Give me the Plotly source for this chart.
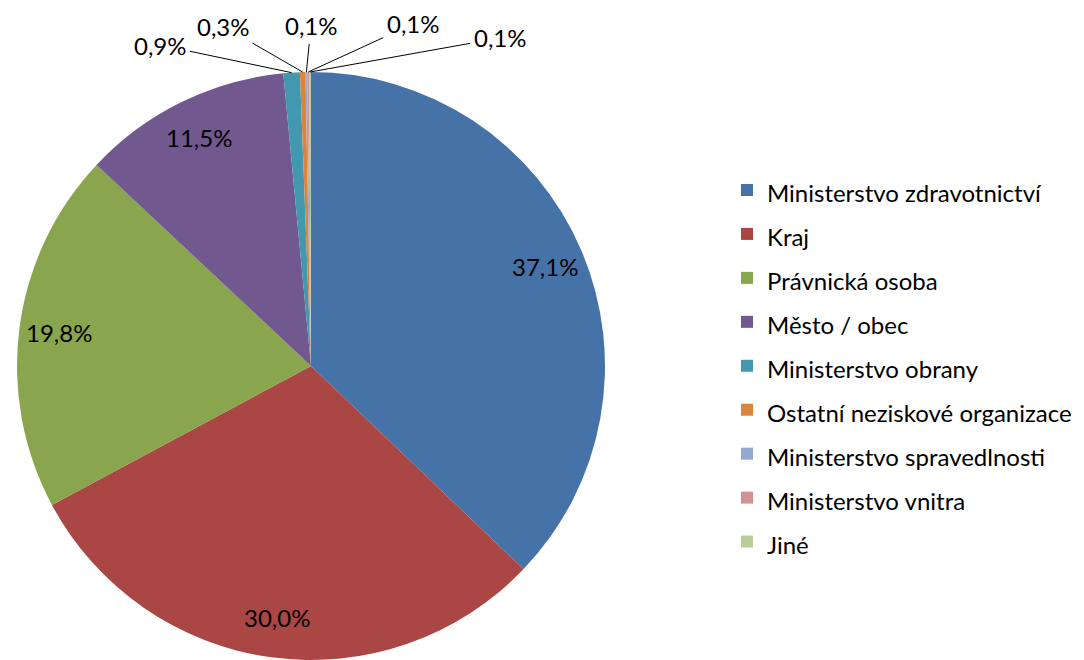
import math
import plotly.graph_objects as go

# ---- data ----
categories = ["Ministerstvo zdravotnictví", "Kraj", "Právnická osoba", "Město / obec",
              "Ministerstvo obrany", "Ostatní neziskové organizace",
              "Ministerstvo spravedlnosti", "Ministerstvo vnitra", "Jiné"]
shares = [37.1, 30.0, 19.8, 11.5, 0.9, 0.3, 0.1, 0.1, 0.1]
share_labels = ["37,1%", "30,0%", "19,8%", "11,5%", "0,9%", "0,3%", "0,1%", "0,1%", "0,1%"]
colors = ["#4572A7", "#AA4643", "#89A54E", "#71588F", "#4198AF",
          "#DB843D", "#93A9CF", "#D19392", "#B9CD96"]

# ---- layout geometry (screen px; the page body adds an 8px offset) ----
OFF = 8
W, H = 1084 - OFF, 660 - OFF
CX, CY, R = 311 - OFF, 366 - OFF, 294     # pie centre / radius in figure px
FONT = "Lato"
FS = 24
LEG_TEXT_FS = 24
LEG_FS = 31.5
# outside label text centres for the tiny slices (screen px)
small_label_pos = [(160, 45), (223, 26), (311, 26), (413, 24), (500, 38)]


def px2paper(x, y):
    return x / W, 1 - y / H


fig = go.Figure()
fig.add_trace(go.Pie(
    labels=[f"<span style='font-size:{LEG_TEXT_FS}px'>{c}</span>" for c in categories],
    values=shares,
    sort=False,
    direction="clockwise",
    rotation=0,
    marker=dict(colors=colors, line=dict(width=0)),
    textinfo="none",
    hoverinfo="label+percent",
    domain=dict(x=[(CX - R) / W, (CX + R) / W], y=[(H - CY - R) / H, (H - CY + R) / H]),
))

total = sum(shares)
annotations = []
cum = 0.0
small_i = 0
for v, lab in zip(shares, share_labels):
    theta = (cum + v / 2) / total * 2 * math.pi
    cum += v
    if v >= 5:
        f = 0.865
        x, y = px2paper(CX + f * R * math.sin(theta), CY - f * R * math.cos(theta))
        annotations.append(dict(x=x, y=y, xref="paper", yref="paper",
                                xanchor="center", yanchor="middle",
                                text=lab, showarrow=False,
                                font=dict(family=FONT, size=FS, color="#000000")))
    else:
        ex = CX + R * math.sin(theta)
        ey = CY - R * math.cos(theta)
        tx, ty = small_label_pos[small_i]
        tx, ty = tx - OFF, ty - OFF
        small_i += 1
        x, y = px2paper(ex, ey)
        annotations.append(dict(x=x, y=y, xref="paper", yref="paper",
                                xanchor="center", yanchor="middle",
                                text=lab, showarrow=True, arrowhead=0, arrowwidth=1,
                                arrowcolor="#000000", ax=tx - ex, ay=ty - ey,
                                standoff=0, startstandoff=2,
                                font=dict(family=FONT, size=FS, color="#000000")))

fig.update_layout(
    width=W, height=H,
    margin=dict(l=0, r=0, t=0, b=0),
    paper_bgcolor="white",
    plot_bgcolor="white",
    font=dict(family=FONT, size=FS, color="#000000"),
    showlegend=True,
    legend=dict(x=(727 - OFF) / W, xanchor="left", y=1 - (366 - OFF) / H, yanchor="middle",
                font=dict(family=FONT, size=LEG_FS, color="#000000"),
                bgcolor="rgba(0,0,0,0)", traceorder="normal"),
    annotations=annotations,
)

fig.write_html("out.html")
